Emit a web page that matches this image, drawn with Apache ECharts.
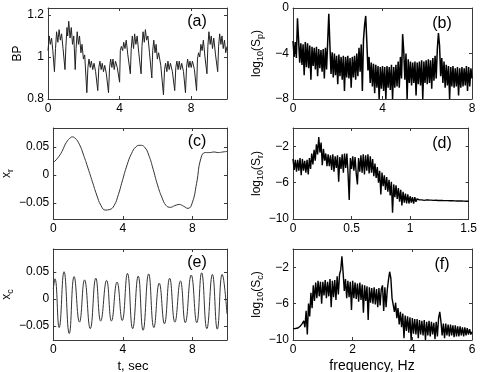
<!DOCTYPE html>
<html><head><meta charset="utf-8">
<script src="https://cdn.jsdelivr.net/npm/echarts@6/dist/echarts.min.js"></script>
<style>html,body{margin:0;padding:0;background:#fff}#c{width:480px;height:372px}</style>
</head><body><div id="c"></div>
<script>
// ---------- DATA ----------
// (a) blood pressure BP vs time [t (s), value]
const bpPoints = [
[0,1.03],[0.07,1.10],[0.13,1.06],[0.2,1.09],[0.27,1.03],[0.36,0.93],
[0.42,1.04],[0.48,1.12],[0.55,1.07],[0.62,1.13],[0.69,1.08],[0.76,1.11],[0.84,1.04],[0.95,0.94],
[1.0,1.05],[1.06,1.14],[1.1,1.10],[1.16,1.17],[1.23,1.09],[1.3,1.14],[1.37,1.06],[1.44,1.1],[1.52,0.94],
[1.57,1.04],[1.63,1.12],[1.7,1.06],[1.76,1.1],[1.84,1.02],[1.9,1.06],[1.98,0.99],[2.05,1.01],[2.17,0.83],
[2.23,0.95],[2.29,0.99],[2.36,0.95],[2.42,0.98],[2.5,0.94],[2.57,0.97],[2.66,0.93],[2.78,0.84],
[2.84,0.95],[2.9,0.98],[2.97,0.94],[3.03,0.97],[3.1,0.93],[3.17,0.96],[3.26,0.92],[3.38,0.83],
[3.44,0.95],[3.5,0.99],[3.57,0.95],[3.63,0.99],[3.7,0.94],[3.77,0.98],[3.87,0.95],[4.0,0.88],
[4.04,1.03],[4.1,1.05],[4.17,1.03],[4.23,1.07],[4.3,1.04],[4.37,1.08],[4.46,1.01],[4.6,0.92],
[4.65,1.04],[4.71,1.10],[4.78,1.04],[4.84,1.11],[4.91,1.06],[4.98,1.10],[5.07,1.02],[5.2,0.92],
[5.25,1.05],[5.31,1.12],[5.38,1.07],[5.44,1.13],[5.51,1.08],[5.58,1.1],[5.67,1.02],[5.8,0.90],
[5.85,1.03],[5.91,1.08],[5.98,1.02],[6.04,1.06],[6.11,0.99],[6.18,1.02],[6.3,0.96],[6.45,0.82],
[6.51,0.94],[6.57,0.97],[6.64,0.93],[6.7,0.98],[6.77,0.94],[6.84,0.97],[6.95,0.93],[7.08,0.84],
[7.14,0.95],[7.2,0.98],[7.27,0.94],[7.33,0.98],[7.4,0.94],[7.47,0.97],[7.57,0.93],[7.68,0.83],
[7.74,0.95],[7.8,0.99],[7.87,0.95],[7.93,0.98],[8.0,0.95],[8.07,0.98],[8.18,0.94],[8.3,0.84],
[8.35,0.99],[8.41,1.02],[8.48,1.0],[8.54,1.06],[8.61,1.03],[8.68,1.08],[8.77,1.0],[8.88,0.92],
[8.93,1.05],[8.99,1.12],[9.06,1.06],[9.12,1.10],[9.19,1.04],[9.26,1.09],[9.36,1.01],[9.48,0.93],
[9.53,1.05],[9.59,1.11],[9.66,1.06],[9.72,1.10],[9.79,1.04],[9.86,1.08],[9.93,1.02],[10,1.05]
];
// (c) respiratory component x_r vs time
const xrPoints = [
[0,0.022],[0.25,0.030],[0.5,0.042],[0.75,0.058],[1.0,0.067],[1.1,0.068],[1.25,0.066],[1.5,0.055],
[1.75,0.035],[2.0,0.012],[2.25,-0.012],[2.5,-0.036],[2.75,-0.055],[3.0,-0.063],[3.25,-0.062],
[3.5,-0.055],[3.75,-0.035],[4.0,-0.008],[4.25,0.018],[4.5,0.038],[4.75,0.050],[5.0,0.053],
[5.25,0.050],[5.5,0.035],[5.75,0.010],[6.0,-0.018],[6.25,-0.040],[6.5,-0.055],[6.75,-0.058],
[7.0,-0.055],[7.25,-0.053],[7.5,-0.056],[7.75,-0.060],[8.0,-0.050],[8.25,-0.015],[8.5,0.030],
[8.75,0.040],[9.0,0.040],[9.25,0.041],[9.5,0.040],[9.75,0.041],[10,0.042]
];
// (e) cardiac component x_c vs time (peaks and troughs)
const xcPoints = [
[0,0.018],[0.1,0.037],[0.34,-0.053],[0.62,0.050],[0.92,-0.064],[1.2,0.041],[1.51,-0.043],
[1.8,0.035],[2.13,-0.055],[2.45,0.038],[2.73,-0.041],[3.07,0.034],[3.35,-0.041],[3.67,0.031],
[3.97,-0.040],[4.27,0.047],[4.57,-0.055],[4.89,0.042],[5.17,-0.058],[5.49,0.046],[5.79,-0.053],
[6.1,0.029],[6.4,-0.046],[6.7,0.038],[7.0,-0.043],[7.32,0.033],[7.6,-0.044],[7.94,0.044],
[8.26,-0.044],[8.54,0.048],[8.84,-0.055],[9.16,0.045],[9.44,-0.056],[9.72,0.045],[10,-0.028]
];
// (b) log10(Sp), frequency step 0.05 Hz from 0 to 8
const spPStep = 0.05;
const spPValues = [
-2.9,-4.3,-3.0,-4.4,-0.9,-2.8,-4.8,-3.1,-5.0,-3.2,
-5.9,-3.0,-5.2,-3.1,-5.3,-3.3,-6.3,-3.4,-5.1,-3.5,
-5.4,-3.4,-6.0,-3.6,-5.3,-3.7,-5.6,-3.6,-6.2,-3.5,
-5.4,-3.0,-0.5,-3.3,-5.8,-3.9,-6.1,-4.0,-5.9,-4.2,
-6.7,-4.1,-6.0,-4.3,-6.3,-4.2,-7.3,-4.3,-6.1,-4.2,
-6.2,-4.4,-7.0,-4.3,-6.1,-4.2,-6.3,-4.0,-6.0,-3.5,
-5.6,-3.2,-7.3,-2.8,-1.5,-0.7,-3.0,-5.5,-4.3,-6.6,
-4.8,-6.9,-4.9,-7.5,-5.0,-7.0,-5.1,-8.0,-5.2,-7.1,
-5.1,-7.3,-5.2,-8.0,-5.1,-7.0,-5.2,-7.2,-5.0,-8.0,
-5.2,-7.0,-5.0,-6.9,-4.7,-7.0,-4.3,-6.2,-2.3,-3.8,
-6.3,-4.0,-8.0,-4.5,-6.6,-4.7,-6.8,-4.8,-6.6,-4.7,
-7.7,-4.8,-6.7,-4.7,-6.8,-4.6,-8.0,-4.7,-6.6,-4.6,
-6.7,-4.5,-6.6,-4.6,-7.1,-4.4,-6.4,-4.2,-6.2,-3.6,
-2.2,-3.3,-6.0,-4.4,-6.6,-4.7,-7.0,-5.0,-6.8,-5.1,
-8.0,-5.2,-6.9,-5.1,-7.0,-5.3,-6.9,-5.2,-7.7,-5.3,
-7.0,-5.2,-6.9,-5.3,-6.8,-5.1,-7.3,-5.2,-6.9,-5.3,
-6.2
];
// (d) log10(Sr), frequency step 0.01 Hz from 0 to 1.5
const spRStep = 0.01;
const spRValues = [
-3.4,-4.6,-3.5,-4.8,-3.5,-4.7,-3.3,-5.2,-3.4,-4.7,
-3.6,-4.9,-3.5,-5.1,-3.3,-4.5,-2.8,-4.0,-2.4,-3.6,
-1.8,-2.9,-1.0,-2.7,-1.6,-4.1,-2.3,-3.6,-2.8,-4.2,
-2.9,-4.2,-3.0,-4.6,-2.9,-4.8,-3.1,-4.4,-3.0,-5.9,
-3.2,-4.5,-2.9,-4.9,-2.8,-4.4,-2.8,-5.0,-7.9,-3.3,
-4.5,-3.1,-4.7,-3.2,-5.0,-6.2,-3.3,-4.8,-3.0,-4.9,
-2.9,-5.1,-3.0,-4.7,-2.9,-5.0,-3.1,-4.9,-3.4,-5.3,
-3.9,-5.5,-4.3,-6.0,-4.7,-7.3,-4.9,-6.4,-5.2,-6.8,
-5.4,-7.0,-5.7,-7.4,-5.9,-9.3,-6.2,-7.6,-6.3,-7.8,
-6.6,-8.1,-6.8,-8.5,-7.0,-8.2,-7.2,-8.3,-7.3,-8.3,
-7.5,-8.2,-7.6,-8.3,-7.6,-8.1,-7.8,-7.9,-7.9,-7.85,
-7.9,-7.85,-7.95,-7.85,-7.9,-7.88,-7.92,-7.86,-7.93,-7.9,
-7.95,-7.9,-7.94,-7.9,-7.96,-7.92,-7.95,-7.93,-7.97,-7.94,
-7.98,-7.95,-7.98,-7.96,-8.0,-7.97,-8.0,-7.98,-8.01,-7.99,
-8.02,-8.0,-8.02,-8.01,-8.03,-8.02,-8.04,-8.03,-8.05,-8.04,
-8.05
];
// (f) log10(Sc), frequency step 0.04 Hz from 0 to 6
const spCStep = 0.04;
const spCValues = [
-8.75,-8.75,-8.74,-8.72,-8.68,-8.6,-8.5,-8.35,-8.15,-7.9,
-8.6,-6.8,-9.4,-6.0,-7.4,-4.8,-6.5,-4.0,-5.7,-3.7,
-5.4,-3.5,-5.2,-3.6,-6.0,-3.6,-5.1,-3.4,-5.4,-3.6,
-5.2,-3.3,-6.4,-3.5,-5.3,-3.4,-5.6,-3.0,-5.0,-2.8,
-2.3,-0.8,-2.6,-4.6,-3.3,-5.4,-3.5,-5.3,-3.6,-6.7,
-3.5,-5.4,-3.7,-5.5,-3.8,-5.8,-3.7,-5.6,-3.9,-7.0,
-4.0,-5.7,-4.1,-7.8,-4.2,-5.9,-4.3,-6.0,-4.2,-6.1,
-4.4,-6.4,-4.3,-6.2,-4.4,-4.0,-6.8,-4.2,-6.4,-4.5,
-3.4,-2.5,-3.2,-5.4,-5.3,-6.9,-5.9,-7.6,-6.5,-8.3,
-6.9,-8.6,-7.1,-9.8,-7.3,-9.0,-7.4,-9.2,-7.5,-10.0,
-7.6,-9.3,-7.7,-9.4,-7.7,-9.8,-7.8,-9.4,-7.9,-9.5,
-7.8,-10.0,-8.0,-9.5,-7.9,-9.6,-8.0,-9.4,-8.1,-9.9,
-8.0,-9.6,-7.6,-6.9,-8.0,-9.5,-8.2,-9.8,-8.2,-9.5,
-8.3,-9.6,-8.3,-9.5,-8.4,-9.7,-8.4,-9.6,-8.5,-9.6,
-8.5,-9.5,-8.6,-9.6,-8.6,-9.5,-8.7,-9.4,-8.8,-9.4,
-9.1
];
// tick labels
const timeTicks = [0, 4, 8];
const bpTicks = [0.8, 1, 1.2];
const xrTicks = [-0.05, 0, 0.05];
const xcTicks = [-0.05, 0, 0.05];
const spPFreqTicks = [0, 4, 8];
const spRFreqTicks = [0, 0.5, 1, 1.5];
const spCFreqTicks = [0, 2, 4, 6];
const spPTicks = [-8, -4, 0];
const spRTicks = [-10, -6, -2];
const spCTicks = [-10, -6, -2];
const panelTags = ['(a)', '(b)', '(c)', '(d)', '(e)', '(f)'];

// ---------- CHART ----------
function spectrum(vals, step) { return vals.map((v, i) => [+(i * step).toFixed(4), v]); }
const FONT = '"Liberation Sans", Arial, Helvetica, sans-serif';
const FRAME = '#3a3a3a';
const colX = [48, 293], rowY = [8, 128, 249], W = 179, H = 91;

const panels = [
  {data: bpPoints, x: [0, 10], xt: timeTicks, y: [0.8, 1.233], yt: bpTicks, name: 'BP', gap: 24, smooth: false, lw: 1, lc: '#222'},
  {data: spectrum(spPValues, spPStep), x: [0, 8], xt: spPFreqTicks, y: [-8, 0], yt: spPTicks, name: '{m|log}{s|10}{m|(S}{s|p}{m|)}', gap: 28, smooth: false, lw: 1.5, lc: '#000'},
  {data: xrPoints, x: [0, 10], xt: timeTicks, y: [-0.079, 0.084], yt: xrTicks, name: '{m|x}{s|r}', gap: 36, smooth: true, lw: 1, lc: '#333'},
  {data: spectrum(spRValues, spRStep), x: [0, 1.5], xt: spRFreqTicks, y: [-10, 0], yt: spRTicks, name: '{m|log}{s|10}{m|(S}{s|r}{m|)}', gap: 28, smooth: false, lw: 1.4, lc: '#000'},
  {data: xcPoints, x: [0, 10], xt: timeTicks, y: [-0.076, 0.092], yt: xcTicks, name: '{m|x}{s|c}', gap: 36, smooth: true, lw: 1, lc: '#333'},
  {data: spectrum(spCValues, spCStep), x: [0, 6], xt: spCFreqTicks, y: [-10, 0], yt: spCTicks, name: '{m|log}{s|10}{m|(S}{s|c}{m|)}', gap: 28, smooth: false, lw: 1.4, lc: '#000'}
];

function fmt(v) { return String(Math.round(v * 1000) / 1000).replace('-', '\u2212'); }

const grid = [], xAxis = [], yAxis = [], series = [], graphic = [];
panels.forEach((p, g) => {
  const left = colX[g % 2], top = rowY[Math.floor(g / 2)];
  grid.push({left: left, top: top, width: W, height: H, show: false, containLabel: false});
  const axLine = {show: true, onZero: false, lineStyle: {color: FRAME, width: 1}};
  const tick = (vals) => ({show: true, inside: true, length: 3, customValues: vals, lineStyle: {color: FRAME, width: 1}});
  xAxis.push({type: 'value', gridIndex: g, min: p.x[0], max: p.x[1], position: 'bottom',
    axisLine: axLine, axisTick: tick(p.xt), splitLine: {show: false},
    axisLabel: {customValues: p.xt, formatter: fmt, margin: 4, color: '#000', fontSize: 12, fontFamily: FONT}});
  xAxis.push({type: 'value', gridIndex: g, min: p.x[0], max: p.x[1], position: 'top',
    axisLine: axLine, axisTick: tick(p.xt), splitLine: {show: false}, axisLabel: {show: false}});
  yAxis.push({type: 'value', gridIndex: g, min: p.y[0], max: p.y[1], position: 'left',
    axisLine: axLine, axisTick: tick(p.yt), splitLine: {show: false},
    axisLabel: {customValues: p.yt, formatter: fmt, margin: 4, color: '#000', fontSize: 12, fontFamily: FONT},
    name: p.name, nameLocation: 'middle', nameRotate: 90, nameGap: p.gap,
    nameTextStyle: {color: '#000', fontSize: 12, fontFamily: FONT,
      rich: {m: {fontSize: 12, fontFamily: FONT, color: '#000'}, s: {fontSize: 9, fontFamily: FONT, color: '#000', padding: [7, 0, 0, 0]}}}});
  yAxis.push({type: 'value', gridIndex: g, min: p.y[0], max: p.y[1], position: 'right',
    axisLine: axLine, axisTick: tick(p.yt), splitLine: {show: false}, axisLabel: {show: false}});
  series.push({type: 'line', xAxisIndex: 2 * g, yAxisIndex: 2 * g, data: p.data, showSymbol: false, symbol: 'none',
    smooth: p.smooth, lineStyle: {color: p.lc, width: p.lw, join: 'miter', miterLimit: 2}, clip: true, animation: false});
  graphic.push({type: 'text', x: left + W - 30, y: top + (g % 2 ? 16 : 14),
    style: {text: panelTags[g], font: '16px ' + FONT, fill: '#000', textAlign: 'center', textVerticalAlign: 'middle', align: 'center', verticalAlign: 'middle'}});
});
graphic.push({type: 'text', x: 133, y: 366, style: {text: 't, sec', font: '13px ' + FONT, fill: '#000', textAlign: 'center', textVerticalAlign: 'middle', align: 'center', verticalAlign: 'middle'}});
graphic.push({type: 'text', x: 372, y: 366, style: {text: 'frequency, Hz', font: '14px ' + FONT, fill: '#000', textAlign: 'center', textVerticalAlign: 'middle', align: 'center', verticalAlign: 'middle'}});

const chart = echarts.init(document.getElementById('c'), null, {renderer: 'canvas'});
chart.setOption({animation: false, backgroundColor: '#fff', textStyle: {fontFamily: FONT},
  grid: grid, xAxis: xAxis, yAxis: yAxis, series: series, graphic: graphic});
</script>
</body></html>
